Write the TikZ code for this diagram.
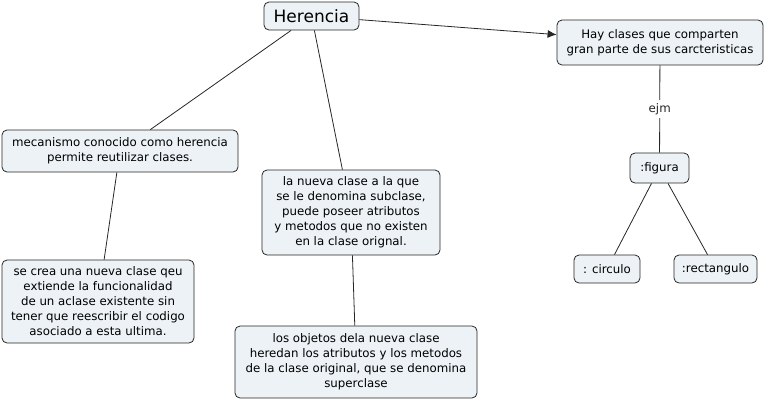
\documentclass[tikz,border=0pt]{standalone}
\usepackage{fontspec}
\setmainfont{DejaVu Sans}
\usetikzlibrary{arrows.meta}
\definecolor{boxfill}{RGB}{236,242,245}
\begin{document}
\begin{tikzpicture}[x=1pt,y=-1pt,
concept/.style={draw=black!85,fill=boxfill,rounded corners=5pt,align=center,inner sep=0pt,line width=.8pt,font=\fontsize{11.8}{15}\selectfont},
link/.style={black!85,line width=.8pt}]
\useasboundingbox(0,0)rectangle(766,400);
\node[concept,minimum width=95,minimum height=28,font=\fontsize{17}{19}\selectfont](h)at(311.5,16){Herencia};
\node[concept,minimum width=206,minimum height=45](hay)at(660,42.5){Hay clases que comparten\\gran parte de sus carcteristicas};
\node[concept,minimum width=236,minimum height=42](mec)at(120,151){mecanismo conocido como herencia\\permite reutilizar clases.};
\node[concept,minimum width=178,minimum height=85](nue)at(351,212.5){la nueva clase a la que\\se le denomina subclase,\\puede poseer atributos\\y metodos que no existen\\en la clase orignal.};
\node[concept,minimum width=192,minimum height=83](cre)at(98,301.5){se crea una nueva clase qeu\\extiende la funcionalidad\\de un aclase existente sin\\tener que reescribir el codigo\\asociado a esta ultima.};
\node[concept,minimum width=242,minimum height=72](obj)at(356,362){los objetos dela nueva clase\\heredan los atributos y los metodos\\de la clase original, que se denomina\\superclase};
\node[concept,minimum width=59,minimum height=30](fig)at(659.5,168){:figura};
\node[concept,minimum width=66,minimum height=28](cir)at(607,269){: circulo};
\node[concept,minimum width=83,minimum height=28](rec)at(715.5,269){:rectangulo};
\draw[link,-{Latex[length=9pt,width=8pt]}](h)--(hay);
\draw[link](h)--(mec);\draw[link](h)--(nue);
\draw[link](mec)--(cre);\draw[link](nue)--(obj);
\draw[link](hay)--node[fill=white,font=\fontsize{11.8}{15}\selectfont](ejm){ejm}(fig);
\draw[link](fig)--(cir);\draw[link](fig)--(rec);
\end{tikzpicture}
\end{document}
